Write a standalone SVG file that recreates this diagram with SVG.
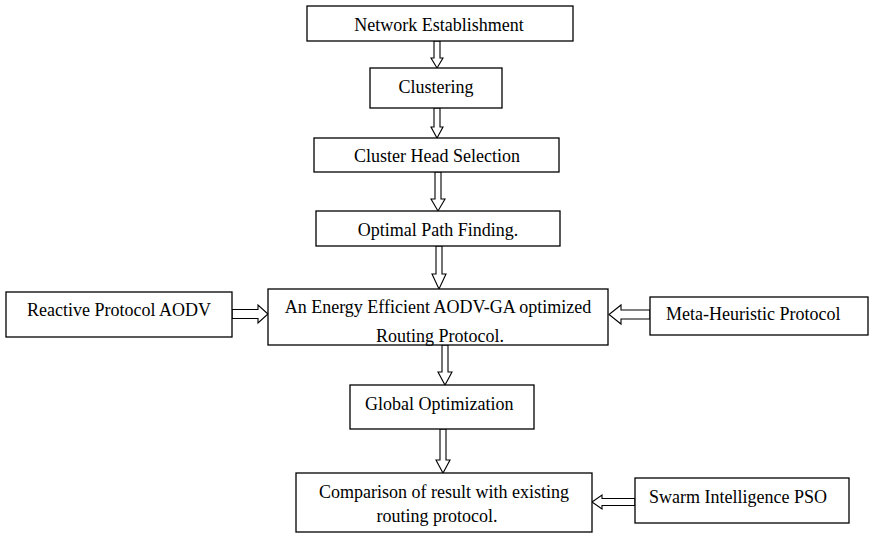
<svg xmlns="http://www.w3.org/2000/svg" width="872" height="533" viewBox="0 0 872 533">
  <style>
    .box { fill: #ffffff; stroke: #000000; stroke-width: 1.3; }
    .lbl { font-family: "Liberation Serif", "Times New Roman", serif; font-size: 18px; fill: #000000; }
    .mid { text-anchor: middle; }
    .arrow { fill: #ffffff; stroke: #000000; stroke-width: 1.1; stroke-linejoin: miter; }
  </style>
  <rect width="872" height="533" fill="#ffffff"/>

  <g id="connectors">
    <!-- vertical hollow block arrows -->
    <polygon class="arrow" points="434,41 440,41 440,58 443,58 437,68 431,58 434,58"/>
    <polygon class="arrow" points="434,108 440,108 440,127 443,127 437,138 431,127 434,127"/>
    <polygon class="arrow" points="435,172 441,172 441,199 445,199 438,211 431,199 435,199"/>
    <polygon class="arrow" points="436,246 442,246 442,274 446,274 439,289 432,274 436,274"/>
    <polygon class="arrow" points="442,345 448,345 448,372 452,372 445,385 438,372 442,372"/>
    <polygon class="arrow" points="440,429 446,429 446,460 450,460 443,473 436,460 440,460"/>
    <!-- horizontal hollow block arrows -->
    <polygon class="arrow" points="232,309.5 258,309.5 258,305 268,314 258,323 258,318.5 232,318.5"/>
    <polygon class="arrow" points="650,310 621,310 621,305 609,314.5 621,324 621,319 650,319"/>
    <polygon class="arrow" points="635,498.5 602,498.5 602,495 592,502 602,509 602,505.5 635,505.5"/>
  </g>

  <g id="network-establishment">
    <rect class="box" x="307" y="6" width="266" height="35"/>
    <text class="lbl mid" x="439" y="31">Network Establishment</text>
  </g>
  <g id="clustering">
    <rect class="box" x="370" y="68" width="132" height="40"/>
    <text class="lbl mid" x="436" y="93">Clustering</text>
  </g>
  <g id="cluster-head-selection">
    <rect class="box" x="314" y="138" width="245" height="34"/>
    <text class="lbl mid" x="437" y="162">Cluster Head Selection</text>
  </g>
  <g id="optimal-path-finding">
    <rect class="box" x="316" y="211" width="244" height="35"/>
    <text class="lbl mid" x="438" y="236">Optimal Path Finding.</text>
  </g>
  <g id="reactive-protocol">
    <rect class="box" x="6" y="292" width="226" height="45"/>
    <text class="lbl mid" x="119" y="316">Reactive Protocol AODV</text>
  </g>
  <g id="aodv-ga-protocol">
    <rect class="box" x="268" y="289" width="340" height="56"/>
    <text class="lbl mid" x="438" y="313">An Energy Efficient AODV-GA optimized</text>
    <text class="lbl mid" x="440" y="342">Routing Protocol.</text>
  </g>
  <g id="meta-heuristic-protocol">
    <rect class="box" x="650" y="297" width="218" height="38"/>
    <text class="lbl" x="666" y="320">Meta-Heuristic Protocol</text>
  </g>
  <g id="global-optimization">
    <rect class="box" x="350" y="385" width="184" height="44"/>
    <text class="lbl" x="365" y="410">Global Optimization</text>
  </g>
  <g id="comparison">
    <rect class="box" x="296" y="473" width="296" height="59"/>
    <text class="lbl mid" x="444" y="498">Comparison of result with existing</text>
    <text class="lbl mid" x="437" y="522">routing protocol.</text>
  </g>
  <g id="swarm-intelligence">
    <rect class="box" x="635" y="478" width="214" height="45"/>
    <text class="lbl" x="649" y="503">Swarm Intelligence PSO</text>
  </g>
</svg>
